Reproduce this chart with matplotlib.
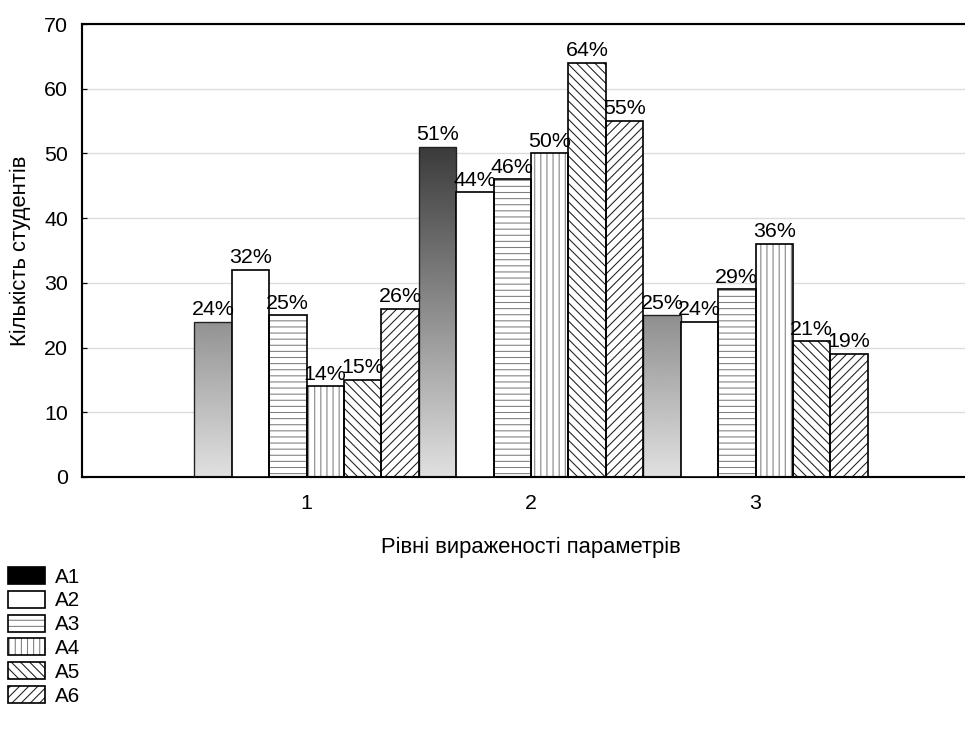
import numpy as np
import matplotlib
matplotlib.use("Agg")
import matplotlib.pyplot as plt
from matplotlib.patches import Patch

plt.rcParams['font.family'] = ['Liberation Sans', 'DejaVu Sans']
plt.rcParams['hatch.linewidth'] = 0.7

levels = [1, 2, 3]
series = ['A1', 'A2', 'A3', 'A4', 'A5', 'A6']
counts = {
    'A1': [24, 51, 25],
    'A2': [32, 44, 24],
    'A3': [25, 46, 29],
    'A4': [14, 50, 36],
    'A5': [15, 64, 21],
    'A6': [26, 55, 19],
}
hatches = {'A1': None, 'A2': None, 'A3': '---', 'A4': '|||',
           'A5': '\\\\\\\\', 'A6': '////'}
hatch_colors = {'A3': '#808080', 'A4': '#808080', 'A5': '#202020', 'A6': '#202020'}

DPI = 110
fig = plt.figure(figsize=(965/DPI, 733/DPI), dpi=DPI)
ax = fig.add_axes([82/965, 256/733, 898/965, 453/733])

width = 1/6
for i, name in enumerate(series):
    for g, val in zip(levels, counts[name]):
        x0 = g - 0.5 + i*width
        if name == 'A1':
            bar = ax.bar(x0, val, width, align='edge', facecolor='none',
                         edgecolor='#222222', linewidth=0.9, zorder=3)[0]
            # vertical grey ramp, shade depends on absolute height
            ys = np.linspace(0, val, 200).reshape(-1, 1)
            shade = np.clip(0.88 - 0.01275*ys, 0, 1)
            im = ax.imshow(shade, extent=[x0, x0+width, 0, val], origin='lower',
                           cmap='gray', vmin=0, vmax=1, aspect='auto', zorder=2)
            im.set_clip_path(bar)
        elif name == 'A2':
            ax.bar(x0, val, width, align='edge', facecolor='white',
                   edgecolor='black', linewidth=1.1, zorder=3)
        else:
            ax.bar(x0, val, width, align='edge', facecolor='white',
                   edgecolor=hatch_colors[name], hatch=hatches[name],
                   linewidth=0, zorder=2)
            ax.bar(x0, val, width, align='edge', facecolor='none',
                   edgecolor='black', linewidth=1.1, zorder=3)
        ax.text(x0 + width/2, val + 0.4, f'{val}%', ha='center', va='bottom',
                fontsize=14, zorder=4)

ax.set_xlim(0, 4)
ax.set_ylim(0, 70)
ax.set_xticks(levels)
ax.set_yticks(range(0, 71, 10))
ax.tick_params(axis='x', length=0, labelsize=14, pad=11)
ax.tick_params(axis='y', length=3, width=0.8, direction='in', labelsize=14, pad=9)
ax.yaxis.grid(True, color='#dcdcdc', linewidth=0.9, zorder=0)
ax.set_axisbelow(True)
for side in ['left', 'bottom', 'top']:
    ax.spines[side].set_linewidth(1.4)
ax.spines['right'].set_visible(False)

ax.set_xlabel('Рівні вираженості параметрів', fontsize=14.4, labelpad=16)
ax.set_ylabel('Кількість студентів', fontsize=14.4, labelpad=9)

handles = []
for name in series:
    if name == 'A1':
        handles.append(Patch(facecolor='black', edgecolor='black', linewidth=1.1))
    elif name == 'A2':
        handles.append(Patch(facecolor='white', edgecolor='black', linewidth=1.1))
    else:
        handles.append((Patch(facecolor='white', edgecolor=hatch_colors[name],
                              hatch=hatches[name], linewidth=0),
                        Patch(facecolor='none', edgecolor='black', linewidth=1.1)))

fig.legend(handles, series, loc='upper left', bbox_to_anchor=(0.008, 0.2265),
           frameon=False, fontsize=13.5, handlelength=1.8, handleheight=0.9,
           labelspacing=0.2, handletextpad=0.5, borderaxespad=0.0,
           borderpad=0.0)

fig.savefig('out.png', dpi=DPI)
